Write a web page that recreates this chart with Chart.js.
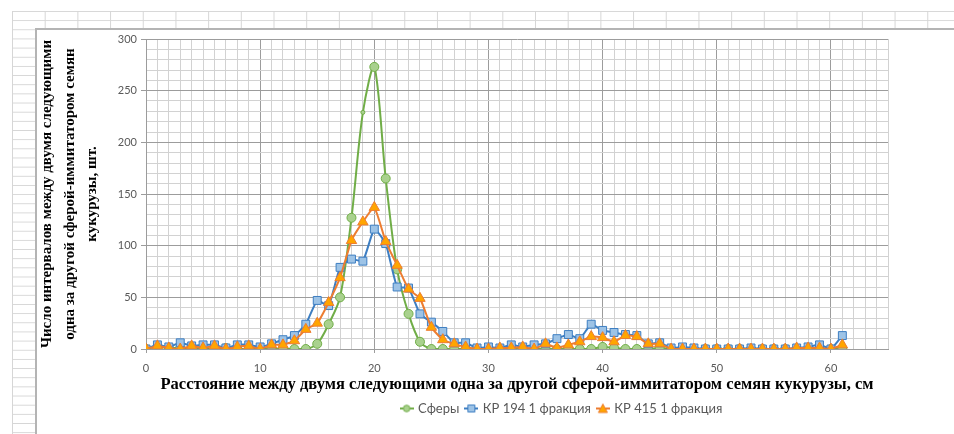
<!DOCTYPE html>
<html>
<head>
<meta charset="utf-8">
<script src="https://cdn.jsdelivr.net/npm/chart.js@4.4.1/dist/chart.umd.min.js"></script>
<style>
  html, body { margin: 0; padding: 0; background: #fff; }
  body { width: 954px; height: 434px; position: relative; overflow: hidden; }
  /* spreadsheet cells behind the chart object */
  .sheet {
    position: absolute; left: 12px; top: 11px; right: 0; bottom: 0;
    background-image:
      linear-gradient(to right, #d6d6d6 1px, transparent 1px),
      linear-gradient(to bottom, #d6d6d6 1px, transparent 1px);
    background-size: 32.7px 9.16px;
  }
  .chartbox {
    position: absolute; left: 35px; top: 28px; right: -4px; bottom: -4px;
    background: #fff; border-left: 2px solid #b4b4b4; border-top: 2px solid #b4b4b4;
  }
  canvas { position: absolute; left: 0; top: 0; }
</style>
</head>
<body>
<div class="sheet"></div>
<div class="chartbox"></div>
<canvas id="chart" width="954" height="434"></canvas>
<script>
// ---------------------------------------------------------------------
// Data
// ---------------------------------------------------------------------
const distances = [
  0, 1, 2, 3, 4, 5, 6, 7, 8, 9, 10, 11, 12, 13, 14, 15, 16, 17, 18, 19, 20,
  21, 22, 23, 24, 25, 26, 27, 28, 29, 30, 31, 32, 33, 34, 35, 36, 37, 38, 39, 40,
  41, 42, 43, 44, 45, 46, 47, 48, 49, 50, 51, 52, 53, 54, 55, 56, 57, 58, 59, 60, 61,
];

const spheres = [
  0, 2, 1, 1, 1, 0, 0, 1, 0, 0, 0, 0, 0, 0, 0, 5, 24, 50, 127, 229, 273,
  165, 77, 34, 7, 0, 0, 0, 0, 0, 0, 0, 0, 0, 0, 0, 0, 0, 0, 0, 2,
  1, 0, 0, 0, 1, 0, 0, 0, 0, 0, 0, 0, 0, 0, 0, 0, 0, 0, 0, 0, 0,
];

const kp194 = [
  0, 4, 2, 6, 3, 4, 4, 1, 4, 4, 2, 5, 9, 13, 24, 47, 42, 79, 87, 85, 116,
  102, 60, 59, 34, 26, 17, 6, 6, 1, 2, 1, 4, 2, 4, 5, 10, 14, 10, 24, 18,
  16, 14, 13, 5, 6, 1, 2, 1, 0, 0, 0, 0, 1, 0, 0, 0, 1, 2, 4, 0, 13,
];

const kp415 = [
  0, 3, 1, 0, 3, 1, 3, 0, 2, 3, 0, 4, 4, 8, 19, 25, 45, 69, 105, 123, 137,
  104, 81, 58, 49, 21, 9, 5, 2, 0, 0, 1, 1, 2, 0, 5, 1, 4, 7, 12, 11,
  7, 13, 12, 5, 5, 0, 0, 0, 0, 0, 0, 0, 0, 0, 0, 0, 1, 1, 1, 0, 4,
];

const seriesNames = ["Сферы", "КР 194 1 фракция", "КР 415 1 фракция"];

const xTitle = "Расстояние между двумя следующими одна за другой сферой-иммитатором семян кукурузы, см";
const yTitle = [
  "Число интервалов между двумя следующими",
  "одна за другой сферой-иммитатором семян",
  "кукурузы, шт.",
];

// ---------------------------------------------------------------------
// Styles
// ---------------------------------------------------------------------
const SANS = "Lato, 'Open Sans', sans-serif";
const SERIF = "'Liberation Serif', 'DejaVu Serif', serif";
const TEXT_GRAY = "#595959";
const GRID_MINOR = "#d2d2d2";
const GRID_MAJOR = "#9c9c9c";
const LEGEND_SHIFT = 100; // the chart object runs past the right edge, legend is centred on it

const styles = [
  { line: "#70ad47", fill: "#a9d18e", shape: "circle", radius: 4.5 },
  { line: "#3d7ec2", fill: "#9dc3e6", shape: "rect", radius: 5.6 },
  { line: "#ed7d31", fill: "#ffa500", shape: "triangle", radius: 6 },
];

function toPoints(values) {
  return values.map((v, i) => ({ x: distances[i], y: v }));
}

// legend marker: short line with the marker on top, like Excel
function legendIcon(st) {
  const c = document.createElement("canvas");
  c.width = 14;
  c.height = 12;
  const g = c.getContext("2d");
  g.strokeStyle = st.line;
  g.lineWidth = 2;
  g.beginPath();
  g.moveTo(0, 6);
  g.lineTo(14, 6);
  g.stroke();
  g.fillStyle = st.fill;
  g.lineWidth = 1;
  g.beginPath();
  if (st.shape === "circle") {
    g.arc(7, 6, 3.3, 0, Math.PI * 2);
  } else if (st.shape === "rect") {
    g.rect(3.5, 2.5, 7, 7);
  } else {
    g.moveTo(7, 1.5);
    g.lineTo(11.5, 10);
    g.lineTo(2.5, 10);
    g.closePath();
  }
  g.fill();
  g.stroke();
  return c;
}

const legendShift = {
  id: "legendShift",
  afterLayout(chart) {
    chart.legend.left += LEGEND_SHIFT;
    chart.legend.right += LEGEND_SHIFT;
  },
};

const datasets = [spheres, kp194, kp415].map((values, i) => {
  const st = styles[i];
  return {
    label: seriesNames[i],
    data: toPoints(values),
    borderColor: st.line,
    backgroundColor: st.fill,
    borderWidth: 2,
    pointStyle: st.shape,
    pointRadius: i === 0 ? (ctx) => (ctx.dataIndex === 19 ? 2 : st.radius) : st.radius,
    pointBorderWidth: 1,
    pointBorderColor: st.line,
    pointBackgroundColor: st.fill,
    tension: i === 0 ? 0.3 : 0.15,
    order: 3 - i,
  };
});

new Chart(document.getElementById("chart"), {
  type: "line",
  data: { datasets },
  plugins: [legendShift],
  options: {
    responsive: false,
    animation: false,
    layout: { padding: { left: 36, top: 39, right: 66, bottom: 9 } },
    scales: {
      x: {
        type: "linear",
        min: 0,
        max: 65,
        afterFit: (scale) => { scale.height = 46; },
        ticks: {
          stepSize: 1,
          autoSkip: false,
          maxRotation: 0,
          padding: 9,
          color: TEXT_GRAY,
          font: { family: SANS, size: 11 },
          callback: (v) => (v % 10 === 0 ? v : ""),
        },
        grid: {
          color: (ctx) => (ctx.tick && ctx.tick.value % 10 === 0 ? GRID_MAJOR : GRID_MINOR),
          tickLength: 4,
          tickColor: (ctx) => (ctx.tick && ctx.tick.value % 10 === 0 ? GRID_MAJOR : "rgba(0,0,0,0)"),
        },
        border: { color: GRID_MAJOR },
        title: {
          display: true,
          text: xTitle,
          color: "#000",
          font: { family: SERIF, size: 16.5, weight: "bold", lineHeight: 1.2 },
          padding: { top: 0, bottom: 0 },
        },
      },
      y: {
        min: 0,
        max: 300,
        afterFit: (scale) => { scale.width = 110; },
        ticks: {
          stepSize: 10,
          autoSkip: false,
          padding: 4,
          color: TEXT_GRAY,
          font: { family: SANS, size: 11 },
          callback: (v) => (v % 50 === 0 ? v : ""),
        },
        grid: {
          color: (ctx) => (ctx.tick && ctx.tick.value % 50 === 0 ? GRID_MAJOR : GRID_MINOR),
          tickLength: 5,
          tickColor: (ctx) => (ctx.tick && ctx.tick.value % 50 === 0 ? GRID_MAJOR : "rgba(0,0,0,0)"),
        },
        border: { color: GRID_MAJOR },
        title: {
          display: true,
          text: yTitle,
          color: "#000",
          font: { family: SERIF, size: 15, weight: "bold", lineHeight: 1.5 },
          padding: { top: 0, bottom: 0 },
        },
      },
    },
    plugins: {
      legend: {
        position: "bottom",
        labels: {
          usePointStyle: true,
          pointStyleWidth: 10,
          boxHeight: 12,
          padding: 7,
          color: TEXT_GRAY,
          font: { family: SANS, size: 13 },
          generateLabels: (chart) => {
            const items = Chart.defaults.plugins.legend.labels.generateLabels(chart);
            items.forEach((it) => { it.pointStyle = legendIcon(styles[it.datasetIndex]); });
            return items;
          },
          sort: (a, b) => a.datasetIndex - b.datasetIndex,
        },
      },
      tooltip: { enabled: false },
    },
  },
});
</script>
</body>
</html>
